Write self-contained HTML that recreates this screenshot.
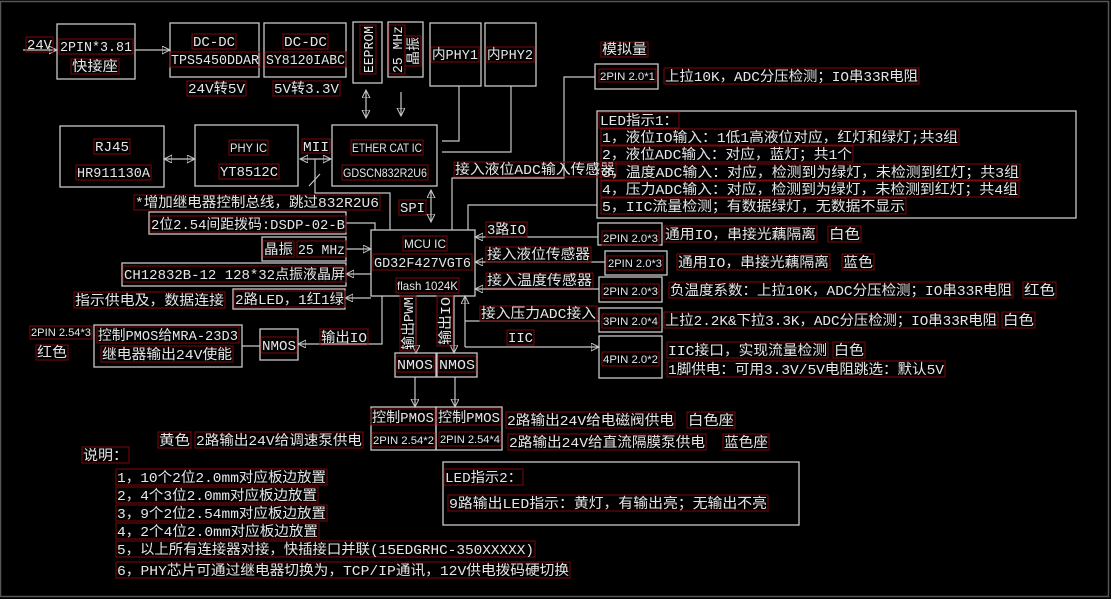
<!DOCTYPE html>
<html><head><meta charset="utf-8"><style>
html,body{margin:0;padding:0;background:#000;}
svg{display:block}
.b{fill:none;stroke:#c8c8c8;stroke-width:1.3}
.l{fill:none;stroke:#c8c8c8;stroke-width:1.2}
.r{fill:none;stroke:#7a0a0a;stroke-width:1}
text{fill:#e6e6e6;font-family:"Liberation Mono","Noto Sans CJK SC",monospace;font-size:14px}
text.s{font-family:"Liberation Sans","Noto Sans CJK SC",sans-serif;font-size:11px}
text.m{font-family:"Liberation Sans","Noto Sans CJK SC",sans-serif;font-size:12px}
</style></head><body>
<svg width="1111" height="599" viewBox="0 0 1111 599" xmlns="http://www.w3.org/2000/svg">
<defs>
<marker id="a" markerWidth="10" markerHeight="10" refX="8" refY="4" orient="auto-start-reverse" markerUnits="userSpaceOnUse"><path d="M0,0 L8,4 L0,8 Z" fill="none" stroke="#c8c8c8" stroke-width="1"/></marker>
</defs>
<rect x="0.5" y="1.5" width="1108" height="595" fill="none" stroke="#555" stroke-width="1.5"/>

<!-- boxes -->
<rect class="b" x="57" y="24" width="78" height="55"/>
<rect class="b" x="170" y="23" width="89" height="54"/>
<rect class="b" x="264" y="23" width="82" height="54"/>
<rect class="b" x="353" y="22" width="29" height="61"/>
<rect class="b" x="388" y="22" width="35" height="55"/>
<rect class="b" x="430" y="23" width="51" height="63"/>
<rect class="b" x="485" y="23" width="51" height="63"/>
<rect class="b" x="60" y="126" width="104" height="61"/>
<rect class="b" x="195" y="125" width="103" height="61"/>
<rect class="b" x="332" y="125" width="105" height="61"/>
<rect class="b" x="149" y="212" width="197" height="22"/>
<rect class="b" x="262" y="237" width="84" height="24"/>
<rect class="b" x="122" y="263" width="224" height="23"/>
<rect class="b" x="233" y="289" width="112" height="20"/>
<rect class="b" x="371" y="230" width="104" height="66"/>
<rect class="b" x="595" y="64" width="63" height="25"/>
<rect class="b" x="598" y="223" width="64" height="22"/>
<rect class="b" x="605" y="251" width="62" height="24"/>
<rect class="b" x="599" y="277" width="63" height="25"/>
<rect class="b" x="599" y="308" width="63" height="24"/>
<rect class="b" x="599" y="336" width="63" height="42"/>
<rect class="b" x="597" y="111" width="479" height="107"/>
<rect class="b" x="94" y="325" width="148" height="42"/>
<rect class="b" x="260" y="329" width="38" height="31"/>
<rect class="b" x="395" y="353" width="41" height="24"/>
<rect class="b" x="437" y="353" width="40" height="24"/>
<rect class="b" x="371" y="407" width="65" height="43"/>
<rect class="b" x="436" y="407" width="66" height="43"/>
<rect class="b" x="443" y="462" width="356" height="63"/>

<!-- lines -->
<line class="l" x1="23" y1="50" x2="57" y2="50" marker-end="url(#a)"/>
<line class="l" x1="135" y1="50" x2="170" y2="50" marker-end="url(#a)"/>
<line class="l" x1="366" y1="90" x2="366" y2="118" marker-start="url(#a)" marker-end="url(#a)"/>
<line class="l" x1="401" y1="92" x2="401" y2="116" marker-end="url(#a)"/>
<line class="l" x1="164" y1="159" x2="195" y2="159" marker-start="url(#a)" marker-end="url(#a)"/>
<line class="l" x1="300" y1="159" x2="331" y2="159" marker-start="url(#a)" marker-end="url(#a)"/>
<polyline class="l" points="315,159 315,193 390,193 390,230"/>
<line class="l" x1="309" y1="186" x2="320" y2="174"/>
<polyline class="l" points="459,86 459,141 442,141"/>
<polyline class="l" points="511,86 511,152 442,152"/>
<line class="l" x1="431" y1="190" x2="431" y2="222" marker-start="url(#a)" marker-end="url(#a)"/>
<polyline class="l" points="452,230 452,178 564,178 564,77 595,77"/>
<polyline class="l" points="468,230 468,205 597,205"/>
<polyline class="l" points="346,223 375,223 375,230"/>
<line class="l" x1="346" y1="249" x2="371" y2="249" marker-end="url(#a)"/>
<line class="l" x1="371" y1="274" x2="346" y2="274" marker-end="url(#a)"/>
<line class="l" x1="371" y1="298" x2="345" y2="298" marker-end="url(#a)"/>
<line class="l" x1="598" y1="237" x2="475" y2="237" marker-end="url(#a)"/>
<line class="l" x1="605" y1="262" x2="475" y2="262" marker-end="url(#a)"/>
<line class="l" x1="599" y1="289" x2="475" y2="289" marker-end="url(#a)"/>
<line class="l" x1="465" y1="347" x2="465" y2="296" marker-end="url(#a)"/>
<line class="l" x1="465" y1="321" x2="599" y2="321"/>
<line class="l" x1="465" y1="347" x2="599" y2="347" marker-end="url(#a)"/>
<polyline class="l" points="382,296 382,344 298,344" marker-end="url(#a)"/>
<line class="l" x1="260" y1="346" x2="242" y2="346"/>
<line class="l" x1="416" y1="296" x2="416" y2="353" marker-end="url(#a)"/>
<line class="l" x1="454" y1="296" x2="454" y2="353" marker-end="url(#a)"/>
<line class="l" x1="415" y1="377" x2="415" y2="407" marker-end="url(#a)"/>
<line class="l" x1="455" y1="377" x2="455" y2="407" marker-end="url(#a)"/>

<!-- vertical texts -->
<g transform="translate(373,73) rotate(-90)"><rect class="r" x="-1" y="-13" width="49" height="16"/><text x="0" y="0" textLength="47" lengthAdjust="spacingAndGlyphs">EEPROM</text></g>
<g transform="translate(402,73) rotate(-90)"><rect class="r" x="-1" y="-13" width="49" height="16"/><text x="0" y="0" textLength="47" lengthAdjust="spacingAndGlyphs">25 MHz</text></g>
<g transform="translate(418,65) rotate(-90)"><rect class="r" x="-1" y="-13" width="30" height="16"/><text x="0" y="0" textLength="28" lengthAdjust="spacingAndGlyphs">晶振</text></g>
<g transform="translate(413,350) rotate(-90)"><rect class="r" x="-1" y="-13" width="55" height="16"/><text x="0" y="0" textLength="53" lengthAdjust="spacingAndGlyphs">输出PWM</text></g>
<g transform="translate(450,345) rotate(-90)"><rect class="r" x="-1" y="-13" width="50" height="16"/><text x="0" y="0" textLength="48" lengthAdjust="spacingAndGlyphs">输出IO</text></g>

<!-- label boxes -->
<g>
<rect class="r" x="26" y="37" width="27" height="15"/><text x="27" y="49" textLength="25" lengthAdjust="spacingAndGlyphs">24V</text>
<rect class="r" x="59" y="39" width="74" height="15"/><text x="60" y="51" textLength="72" lengthAdjust="spacingAndGlyphs">2PIN*3.81</text>
<rect class="r" x="71" y="59" width="48" height="15"/><text x="72" y="71" textLength="46" lengthAdjust="spacingAndGlyphs">快接座</text>
<rect class="r" x="192" y="34" width="44" height="15"/><text x="193" y="46" textLength="42" lengthAdjust="spacingAndGlyphs">DC-DC</text>
<rect class="r" x="170" y="52" width="90" height="15"/><text x="171" y="64" textLength="88" lengthAdjust="spacingAndGlyphs">TPS5450DDAR</text>
<rect class="r" x="187" y="81" width="59" height="15"/><text x="188" y="93" textLength="57" lengthAdjust="spacingAndGlyphs">24V转5V</text>
<rect class="r" x="283" y="34" width="45" height="15"/><text x="284" y="46" textLength="43" lengthAdjust="spacingAndGlyphs">DC-DC</text>
<rect class="r" x="265" y="52" width="81" height="15"/><text x="266" y="64" textLength="79" lengthAdjust="spacingAndGlyphs">SY8120IABC</text>
<rect class="r" x="273" y="81" width="67" height="15"/><text x="274" y="93" textLength="65" lengthAdjust="spacingAndGlyphs">5V转3.3V</text>
<rect class="r" x="431" y="47" width="48" height="15"/><text x="432" y="59" textLength="46" lengthAdjust="spacingAndGlyphs">内PHY1</text>
<rect class="r" x="486" y="47" width="48" height="15"/><text x="487" y="59" textLength="46" lengthAdjust="spacingAndGlyphs">内PHY2</text>
<rect class="r" x="94" y="139" width="36" height="15"/><text x="95" y="151" textLength="34" lengthAdjust="spacingAndGlyphs">RJ45</text>
<rect class="r" x="76" y="165" width="75" height="15"/><text x="77" y="177" textLength="73" lengthAdjust="spacingAndGlyphs">HR911130A</text>
<rect class="r" x="229" y="140" width="39" height="15"/><text class="m" x="230" y="152" textLength="37" lengthAdjust="spacingAndGlyphs">PHY IC</text>
<rect class="r" x="219" y="164" width="60" height="15"/><text x="220" y="176" textLength="58" lengthAdjust="spacingAndGlyphs">YT8512C</text>
<rect class="r" x="302" y="139" width="28" height="14"/><text x="303" y="151" textLength="26" lengthAdjust="spacingAndGlyphs">MII</text>
<rect class="r" x="351" y="140" width="72" height="15"/><text class="m" x="352" y="152" textLength="70" lengthAdjust="spacingAndGlyphs">ETHER CAT IC</text>
<rect class="r" x="342" y="165" width="86" height="15"/><text class="m" x="343" y="177" textLength="84" lengthAdjust="spacingAndGlyphs">GDSCN832R2U6</text>
<rect class="r" x="134" y="195" width="246" height="15"/><text x="135" y="207" textLength="244" lengthAdjust="spacingAndGlyphs">*增加继电器控制总线，跳过832R2U6</text>
<rect class="r" x="399" y="200" width="27" height="15"/><text x="400" y="212" textLength="25" lengthAdjust="spacingAndGlyphs">SPI</text>
<rect class="r" x="454" y="162" width="162" height="15"/><text x="455" y="174" textLength="160" lengthAdjust="spacingAndGlyphs">接入液位ADC输入传感器</text>
<rect class="r" x="150" y="216" width="196" height="16"/><text x="151" y="229" textLength="194" lengthAdjust="spacingAndGlyphs">2位2.54间距拨码:DSDP-02-B</text>
<rect class="r" x="263" y="241" width="31" height="16"/><text x="264" y="254" textLength="29" lengthAdjust="spacingAndGlyphs">晶振</text>
<rect class="r" x="297" y="241" width="49" height="16"/><text x="298" y="254" textLength="47" lengthAdjust="spacingAndGlyphs">25 MHz</text>
<rect class="r" x="123" y="266" width="223" height="16"/><text x="124" y="279" textLength="221" lengthAdjust="spacingAndGlyphs">CH12832B-12 128*32点振液晶屏</text>
<rect class="r" x="74" y="292" width="151" height="16"/><text x="75" y="305" textLength="149" lengthAdjust="spacingAndGlyphs">指示供电及，数据连接</text>
<rect class="r" x="234" y="291" width="111" height="16"/><text x="235" y="304" textLength="109" lengthAdjust="spacingAndGlyphs">2路LED，1红1绿</text>
<rect class="r" x="30" y="326" width="62" height="13"/><text class="s" x="31" y="336" textLength="60" lengthAdjust="spacingAndGlyphs">2PIN 2.54*3</text>
<rect class="r" x="36" y="345" width="32" height="15"/><text x="37" y="357" textLength="30" lengthAdjust="spacingAndGlyphs">红色</text>
<rect class="r" x="97" y="327" width="142" height="16"/><text x="98" y="340" textLength="140" lengthAdjust="spacingAndGlyphs">控制PMOS给MRA-23D3</text>
<rect class="r" x="101" y="346" width="132" height="16"/><text x="102" y="359" textLength="130" lengthAdjust="spacingAndGlyphs">继电器输出24V使能</text>
<rect class="r" x="261" y="337" width="36" height="16"/><text x="262" y="350" textLength="34" lengthAdjust="spacingAndGlyphs">NMOS</text>
<rect class="r" x="320" y="329" width="48" height="16"/><text x="321" y="342" textLength="46" lengthAdjust="spacingAndGlyphs">输出IO</text>
<rect class="r" x="403" y="236" width="44" height="15"/><text class="m" x="404" y="248" textLength="42" lengthAdjust="spacingAndGlyphs">MCU IC</text>
<rect class="r" x="373" y="254" width="99" height="16"/><text x="374" y="267" textLength="97" lengthAdjust="spacingAndGlyphs">GD32F427VGT6</text>
<rect class="r" x="396" y="278" width="63" height="15"/><text class="m" x="397" y="290" textLength="61" lengthAdjust="spacingAndGlyphs">flash 1024K</text>
<rect class="r" x="486" y="222" width="41" height="15"/><text x="487" y="234" textLength="39" lengthAdjust="spacingAndGlyphs">3路IO</text>
<rect class="r" x="486" y="247" width="105" height="15"/><text x="487" y="259" textLength="103" lengthAdjust="spacingAndGlyphs">接入液位传感器</text>
<rect class="r" x="486" y="273" width="107" height="15"/><text x="487" y="285" textLength="105" lengthAdjust="spacingAndGlyphs">接入温度传感器</text>
<rect class="r" x="480" y="306" width="117" height="15"/><text x="481" y="318" textLength="115" lengthAdjust="spacingAndGlyphs">接入压力ADC接入</text>
<rect class="r" x="507" y="330" width="27" height="15"/><text x="508" y="342" textLength="25" lengthAdjust="spacingAndGlyphs">IIC</text>
<rect class="r" x="396" y="356" width="38" height="16"/><text x="397" y="369" textLength="36" lengthAdjust="spacingAndGlyphs">NMOS</text>
<rect class="r" x="438" y="356" width="38" height="16"/><text x="439" y="369" textLength="36" lengthAdjust="spacingAndGlyphs">NMOS</text>
<rect class="r" x="371" y="409" width="64" height="16"/><text x="372" y="422" textLength="62" lengthAdjust="spacingAndGlyphs">控制PMOS</text>
<rect class="r" x="437" y="409" width="64" height="16"/><text x="438" y="422" textLength="62" lengthAdjust="spacingAndGlyphs">控制PMOS</text>
<rect class="r" x="372" y="433" width="63" height="14"/><text class="s" x="373" y="444" textLength="61" lengthAdjust="spacingAndGlyphs">2PIN 2.54*2</text>
<rect class="r" x="439" y="432" width="62" height="14"/><text class="s" x="440" y="443" textLength="60" lengthAdjust="spacingAndGlyphs">2PIN 2.54*4</text>
<rect class="r" x="158" y="432" width="33" height="16"/><text x="159" y="445" textLength="31" lengthAdjust="spacingAndGlyphs">黄色</text>
<rect class="r" x="195" y="432" width="168" height="16"/><text x="196" y="445" textLength="166" lengthAdjust="spacingAndGlyphs">2路输出24V给调速泵供电</text>
<rect class="r" x="506" y="412" width="169" height="16"/><text x="507" y="425" textLength="167" lengthAdjust="spacingAndGlyphs">2路输出24V给电磁阀供电</text>
<rect class="r" x="687" y="412" width="48" height="16"/><text x="688" y="425" textLength="46" lengthAdjust="spacingAndGlyphs">白色座</text>
<rect class="r" x="508" y="434" width="198" height="16"/><text x="509" y="447" textLength="196" lengthAdjust="spacingAndGlyphs">2路输出24V给直流隔膜泵供电</text>
<rect class="r" x="723" y="434" width="46" height="16"/><text x="724" y="447" textLength="44" lengthAdjust="spacingAndGlyphs">蓝色座</text>
<rect class="r" x="601" y="42" width="47" height="15"/><text x="602" y="54" textLength="45" lengthAdjust="spacingAndGlyphs">模拟量</text>
<rect class="r" x="599" y="69" width="57" height="13"/><text class="s" x="600" y="80" textLength="55" lengthAdjust="spacingAndGlyphs">2PIN 2.0*1</text>
<rect class="r" x="664" y="68" width="255" height="16"/><text x="665" y="81" textLength="253" lengthAdjust="spacingAndGlyphs">上拉10K，ADC分压检测；IO串33R电阻</text>
<rect class="r" x="599" y="112" width="80" height="16"/><text x="600" y="125" textLength="78" lengthAdjust="spacingAndGlyphs">LED指示1：</text>
<rect class="r" x="601" y="129" width="358" height="16"/><text x="602" y="142" textLength="356" lengthAdjust="spacingAndGlyphs">1，液位IO输入：1低1高液位对应，红灯和绿灯;共3组</text>
<rect class="r" x="601" y="146" width="252" height="16"/><text x="602" y="159" textLength="250" lengthAdjust="spacingAndGlyphs">2，液位ADC输入：对应，蓝灯；共1个</text>
<rect class="r" x="601" y="164" width="419" height="16"/><text x="602" y="177" textLength="417" lengthAdjust="spacingAndGlyphs">3，温度ADC输入：对应，检测到为绿灯，未检测到红灯；共3组</text>
<rect class="r" x="601" y="181" width="418" height="16"/><text x="602" y="194" textLength="416" lengthAdjust="spacingAndGlyphs">4，压力ADC输入：对应，检测到为绿灯，未检测到红灯；共4组</text>
<rect class="r" x="601" y="198" width="305" height="16"/><text x="602" y="211" textLength="303" lengthAdjust="spacingAndGlyphs">5，IIC流量检测；有数据绿灯，无数据不显示</text>
<rect class="r" x="602" y="231" width="57" height="14"/><text class="s" x="603" y="242" textLength="55" lengthAdjust="spacingAndGlyphs">2PIN 2.0*3</text>
<rect class="r" x="664" y="226" width="153" height="16"/><text x="665" y="239" textLength="151" lengthAdjust="spacingAndGlyphs">通用IO，串接光藕隔离</text>
<rect class="r" x="828" y="226" width="33" height="16"/><text x="829" y="239" textLength="31" lengthAdjust="spacingAndGlyphs">白色</text>
<rect class="r" x="607" y="256" width="56" height="14"/><text class="s" x="608" y="267" textLength="54" lengthAdjust="spacingAndGlyphs">2PIN 2.0*3</text>
<rect class="r" x="677" y="254" width="153" height="16"/><text x="678" y="267" textLength="151" lengthAdjust="spacingAndGlyphs">通用IO，串接光藕隔离</text>
<rect class="r" x="842" y="254" width="32" height="16"/><text x="843" y="267" textLength="30" lengthAdjust="spacingAndGlyphs">蓝色</text>
<rect class="r" x="602" y="284" width="57" height="14"/><text class="s" x="603" y="295" textLength="55" lengthAdjust="spacingAndGlyphs">2PIN 2.0*3</text>
<rect class="r" x="669" y="282" width="344" height="16"/><text x="670" y="295" textLength="342" lengthAdjust="spacingAndGlyphs">负温度系数：上拉10K，ADC分压检测；IO串33R电阻</text>
<rect class="r" x="1023" y="282" width="33" height="16"/><text x="1024" y="295" textLength="31" lengthAdjust="spacingAndGlyphs">红色</text>
<rect class="r" x="602" y="314" width="57" height="14"/><text class="s" x="603" y="325" textLength="55" lengthAdjust="spacingAndGlyphs">3PIN 2.0*4</text>
<rect class="r" x="664" y="312" width="334" height="16"/><text x="665" y="325" textLength="332" lengthAdjust="spacingAndGlyphs">上拉2.2K&amp;下拉3.3K，ADC分压检测；IO串33R电阻</text>
<rect class="r" x="1002" y="312" width="33" height="16"/><text x="1003" y="325" textLength="31" lengthAdjust="spacingAndGlyphs">白色</text>
<rect class="r" x="602" y="352" width="57" height="14"/><text class="s" x="603" y="363" textLength="55" lengthAdjust="spacingAndGlyphs">4PIN 2.0*2</text>
<rect class="r" x="667" y="342" width="161" height="16"/><text x="668" y="355" textLength="159" lengthAdjust="spacingAndGlyphs">IIC接口，实现流量检测</text>
<rect class="r" x="833" y="342" width="32" height="16"/><text x="834" y="355" textLength="30" lengthAdjust="spacingAndGlyphs">白色</text>
<rect class="r" x="667" y="361" width="278" height="16"/><text x="668" y="374" textLength="276" lengthAdjust="spacingAndGlyphs">1脚供电：可用3.3V/5V电阻跳选：默认5V</text>
<rect class="r" x="82" y="447" width="47" height="16"/><text x="83" y="460" textLength="45" lengthAdjust="spacingAndGlyphs">说明：</text>
<rect class="r" x="116" y="469" width="211" height="16"/><text x="117" y="482" textLength="209" lengthAdjust="spacingAndGlyphs">1，10个2位2.0mm对应板边放置</text>
<rect class="r" x="116" y="487" width="202" height="16"/><text x="117" y="500" textLength="200" lengthAdjust="spacingAndGlyphs">2，4个3位2.0mm对应板边放置</text>
<rect class="r" x="116" y="505" width="211" height="16"/><text x="117" y="518" textLength="209" lengthAdjust="spacingAndGlyphs">3，9个2位2.54mm对应板边放置</text>
<rect class="r" x="116" y="523" width="203" height="16"/><text x="117" y="536" textLength="201" lengthAdjust="spacingAndGlyphs">4，2个4位2.0mm对应板边放置</text>
<rect class="r" x="116" y="541" width="419" height="16"/><text x="117" y="554" textLength="417" lengthAdjust="spacingAndGlyphs">5，以上所有连接器对接，快插接口并联(15EDGRHC-350XXXXX)</text>
<rect class="r" x="116" y="562" width="454" height="16"/><text x="117" y="575" textLength="452" lengthAdjust="spacingAndGlyphs">6，PHY芯片可通过继电器切换为，TCP/IP通讯，12V供电拨码硬切换</text>
<rect class="r" x="444" y="469" width="79" height="16"/><text x="445" y="482" textLength="77" lengthAdjust="spacingAndGlyphs">LED指示2：</text>
<rect class="r" x="448" y="495" width="320" height="16"/><text x="449" y="508" textLength="318" lengthAdjust="spacingAndGlyphs">9路输出LED指示：黄灯，有输出亮；无输出不亮</text>
</g>
</svg>
</body></html>
